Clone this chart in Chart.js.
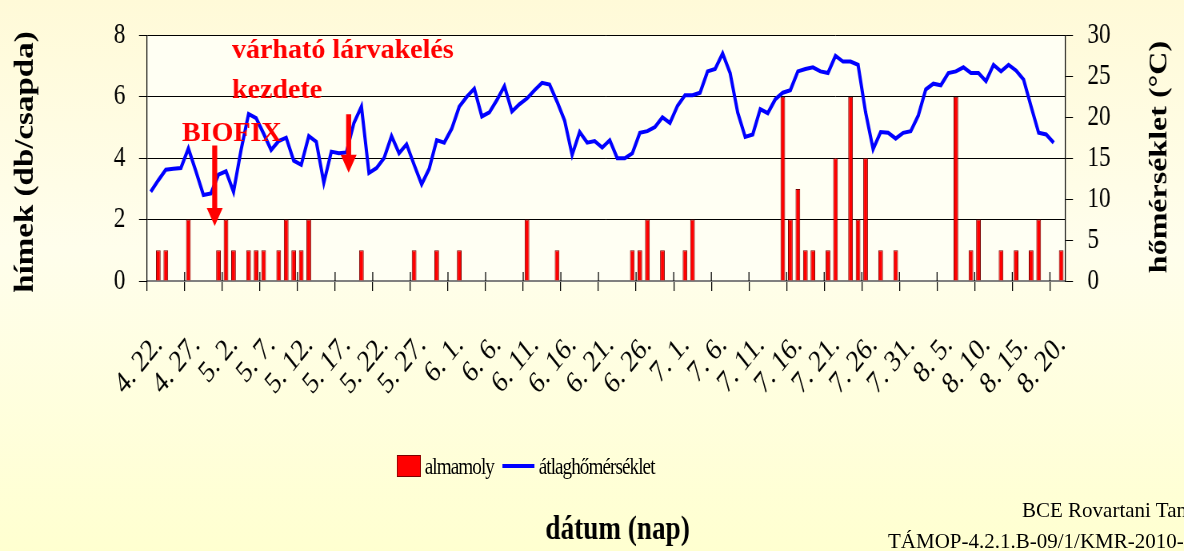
<!DOCTYPE html>
<html>
<head>
<meta charset="utf-8">
<script src="https://cdn.jsdelivr.net/npm/chart.js@4.4.1/dist/chart.umd.min.js"></script>
<style>
  html, body { margin: 0; padding: 0; }
  body {
    width: 1184px; height: 551px; overflow: hidden; position: relative;
    background: linear-gradient(to bottom, #fffad8 0%, #fffeec 45%, #ffffd0 100%);
    font-family: "Liberation Serif", "Times New Roman", serif;
  }
  /* the chart in the slide is squeezed horizontally, so draw it wider and scale it down */
  #wrap { position: absolute; left: 0; top: 0; width: 1480px; height: 551px; transform: scaleX(0.8); transform-origin: 0 0; }
  #legend { position: absolute; left: 496px; top: 455px; height: 22px; display: flex; align-items: center; font-size: 24px; letter-spacing: -1.2px; color: #000; white-space: nowrap; }
  #legend .item { display: flex; align-items: center; margin-right: 11px; }
  #legend .swatch { display: inline-block; box-sizing: border-box; margin-right: 5px; }
  .credit { position: absolute; font-size: 21px; line-height: 21px; white-space: nowrap; color: #000; }
</style>
</head>
<body>
<div id="wrap">
  <canvas id="chart"></canvas>
  <div id="legend"></div>
</div>
<div class="credit" style="left:1022px; top:500px;">BCE Rovartani Tanszék</div>
<div class="credit" style="left:888px; top:531px;">TÁMOP-4.2.1.B-09/1/KMR-2010-0003</div>

<script>
const SQUEEZE = 0.8;

// days 4.22 .. 8.21
const monthDays = [[4, 22, 30], [5, 1, 31], [6, 1, 30], [7, 1, 31], [8, 1, 21]];
const dates = [];
monthDays.forEach(([m, from, to]) => {
  for (let d = from; d <= to; d++) dates.push(m + '. ' + d + '.');
});

// males per trap (almamoly)
const moths = [
  0, 1, 1, 0, 0, 2, 0, 0, 0, 1,
  2, 1, 0, 1, 1, 1, 0, 1, 2, 1,
  1, 2, 0, 0, 0, 0, 0, 0, 1, 0,
  0, 0, 0, 0, 0, 1, 0, 0, 1, 0,
  0, 1, 0, 0, 0, 0, 0, 0, 0, 0,
  2, 0, 0, 0, 1, 0, 0, 0, 0, 0,
  0, 0, 0, 0, 1, 1, 2, 0, 1, 0,
  0, 1, 2, 0, 0, 0, 0, 0, 0, 0,
  0, 0, 0, 0, 6, 2, 3, 1, 1, 0,
  1, 4, 0, 6, 2, 4, 0, 1, 0, 1,
  0, 0, 0, 0, 0, 0, 0, 6, 0, 1,
  2, 0, 0, 1, 0, 1, 0, 1, 2, 0,
  0, 1
];

// daily mean temperature, °C
const temps = [
  10.9, 12.3, 13.6, 13.7, 13.8, 16.2, 13.4, 10.5, 10.7, 13.0,
  13.4, 10.9, 16.0, 20.4, 19.9, 18.0, 16.0, 17.1, 17.5, 14.7,
  14.2, 17.7, 17.0, 12.0, 15.8, 15.6, 15.7, 19.3, 21.3, 13.2,
  13.8, 15.0, 17.7, 15.6, 16.7, 14.2, 11.8, 13.7, 17.2, 16.9,
  18.6, 21.3, 22.5, 23.5, 20.1, 20.6, 22.1, 23.8, 20.7, 21.6,
  22.3, 23.3, 24.2, 24.0, 21.9, 19.6, 15.4, 18.2, 16.9, 17.1,
  16.3, 17.2, 15.0, 15.0, 15.6, 18.1, 18.3, 18.8, 20.0, 19.3,
  21.4, 22.7, 22.7, 23.0, 25.6, 25.9, 27.8, 25.4, 20.6, 17.6,
  17.9, 21.0, 20.5, 22.2, 23.0, 23.3, 25.6, 25.9, 26.1, 25.6,
  25.4, 27.5, 26.8, 26.8, 26.4, 20.6, 16.1, 18.2, 18.1, 17.4,
  18.1, 18.3, 20.2, 23.4, 24.1, 23.9, 25.4, 25.6, 26.1, 25.4,
  25.4, 24.4, 26.4, 25.6, 26.4, 25.7, 24.6, 21.3, 18.1, 17.9,
  16.9, null
];

const leftTicks = [0, 2, 4, 6, 8];
const rightTicks = [0, 5, 10, 15, 20, 25, 30];

// red notes on the slide, in data units (day index, left axis)
const notes = [
  { text: 'várható lárvakelés', x: 10.8, y: 7.28 },
  { text: 'kezdete', x: 10.8, y: 5.96 },
  { text: 'BIOFIX', x: 4.15, y: 4.57 }
];
const arrows = [
  { x: 8.5, from: 4.41, to: 1.79 },
  { x: 26.3, from: 5.43, to: 3.53 }
];

const serif = 'Liberation Serif';

const decor = {
  id: 'decor',
  beforeDraw(chart) {
    const { ctx, chartArea: a } = chart;
    ctx.save();
    ctx.fillStyle = '#fffff3';
    ctx.fillRect(a.left, a.top, a.right - a.left, a.bottom - a.top);
    ctx.restore();
  },
  afterDraw(chart) {
    const { ctx, chartArea: a, scales: { x, y } } = chart;
    const k = 1 / SQUEEZE;

    ctx.save();
    // category ticks cross the axis, so add the part inside the plot
    const half = (x.getPixelForValue(1) - x.getPixelForValue(0)) / 2;
    ctx.strokeStyle = '#000';
    ctx.lineWidth = 1.25;
    for (let i = 5; i < dates.length; i += 5) {
      const px = x.getPixelForValue(i) - half;
      ctx.beginPath();
      ctx.moveTo(px, a.bottom);
      ctx.lineTo(px, a.bottom - 9);
      ctx.stroke();
    }

    ctx.fillStyle = '#000';
    ctx.textAlign = 'center';
    ctx.textBaseline = 'middle';
    [[32, 162, 33, 'hímek (db/csapda)'], [1450, 157, 32, 'hőmérséklet (°C)']].forEach(([tx, ty, fs, t]) => {
      ctx.save();
      ctx.font = 'bold ' + fs + 'px "' + serif + '"';
      ctx.translate(tx, ty);
      ctx.rotate(-Math.PI / 2);
      ctx.fillText(t, 0, 0);
      ctx.restore();
    });
    ctx.font = 'bold 34px "' + serif + '"';
    ctx.fillText('dátum (nap)', 772, 530);

    // notes are slide text, not squeezed
    ctx.fillStyle = '#ff0000';
    ctx.font = 'bold 28px "' + serif + '"';
    ctx.textAlign = 'left';
    ctx.textBaseline = 'alphabetic';
    notes.forEach(n => {
      ctx.save();
      ctx.translate(x.getPixelForValue(n.x), y.getPixelForValue(n.y));
      ctx.scale(k, 1);
      ctx.fillText(n.text, 0, 0);
      ctx.restore();
    });

    arrows.forEach(ar => {
      const y0 = y.getPixelForValue(ar.from);
      const y1 = y.getPixelForValue(ar.to);
      const head = 18;
      ctx.save();
      ctx.translate(x.getPixelForValue(ar.x), 0);
      ctx.scale(k, 1);
      ctx.beginPath();
      ctx.moveTo(-2.5, y0);
      ctx.lineTo(2.5, y0);
      ctx.lineTo(2.5, y1 - head);
      ctx.lineTo(8, y1 - head);
      ctx.lineTo(0, y1);
      ctx.lineTo(-8, y1 - head);
      ctx.lineTo(-2.5, y1 - head);
      ctx.closePath();
      ctx.fill();
      ctx.restore();
    });
    ctx.restore();
  }
};

const chart = new Chart(document.getElementById('chart'), {
  type: 'bar',
  data: {
    labels: dates,
    datasets: [
      {
        type: 'bar', label: 'almamoly', data: moths, yAxisID: 'y',
        backgroundColor: '#ff0000', borderColor: '#7a0000', borderWidth: 1,
        barPercentage: 0.62, categoryPercentage: 1, order: 1
      },
      {
        type: 'line', label: 'átlaghőmérséklet', data: temps, yAxisID: 'y1',
        borderColor: '#0000ff', borderWidth: 4, pointRadius: 0, tension: 0, order: 0
      }
    ]
  },
  options: {
    responsive: true,
    maintainAspectRatio: false,
    animation: false,
    layout: { padding: { top: 22, left: 0, right: 0, bottom: 0 } },
    plugins: { legend: { display: false }, tooltip: { enabled: false } },
    scales: {
      x: {
        grid: {
          drawOnChartArea: false, tickLength: 10, lineWidth: 1.25,
          color: c => c.index % 5 === 0 ? '#000' : 'rgba(0,0,0,0)'
        },
        border: { color: '#808080', width: 2 },
        ticks: {
          autoSkip: false, maxRotation: 45, minRotation: 45, padding: 36, labelOffset: 10,
          color: '#000', font: { family: serif, size: 31 },
          callback: (v, i) => i % 5 === 0 ? dates[i] : ''
        },
        afterFit: s => { s.height = 270; }
      },
      y: {
        position: 'left', min: 0, max: 8,
        afterBuildTicks: s => { s.ticks = leftTicks.map(v => ({ value: v })); },
        ticks: { padding: 17, color: '#000', font: { family: serif, size: 29 } },
        grid: {
          tickLength: 10, lineWidth: 1, tickColor: '#000',
          color: c => c.tick && c.tick.value === 0 ? 'rgba(0,0,0,0)' : '#000'
        },
        border: { color: '#000', width: 1.25 },
        afterFit: s => { s.width = 183.75; }
      },
      y1: {
        position: 'right', min: 0, max: 30,
        afterBuildTicks: s => { s.ticks = rightTicks.map(v => ({ value: v })); },
        ticks: { padding: 18, color: '#000', font: { family: serif, size: 29 } },
        grid: { drawOnChartArea: false, tickLength: 10, lineWidth: 1, color: '#000' },
        border: { color: '#000', width: 1.25 },
        afterFit: s => { s.width = 148.75; }
      }
    }
  },
  plugins: [decor]
});

// legend built from the datasets
const legendEl = document.getElementById('legend');
chart.data.datasets.forEach(ds => {
  const item = document.createElement('span');
  item.className = 'item';
  const sw = document.createElement('span');
  sw.className = 'swatch';
  if (ds.type === 'bar') {
    sw.style.width = '30px';
    sw.style.height = '22px';
    sw.style.background = ds.backgroundColor;
    sw.style.border = '1.25px solid ' + ds.borderColor;
  } else {
    sw.style.width = '40px';
    sw.style.height = ds.borderWidth + 'px';
    sw.style.background = ds.borderColor;
  }
  item.appendChild(sw);
  item.appendChild(document.createTextNode(ds.label));
  legendEl.appendChild(item);
});
</script>
</body>
</html>
